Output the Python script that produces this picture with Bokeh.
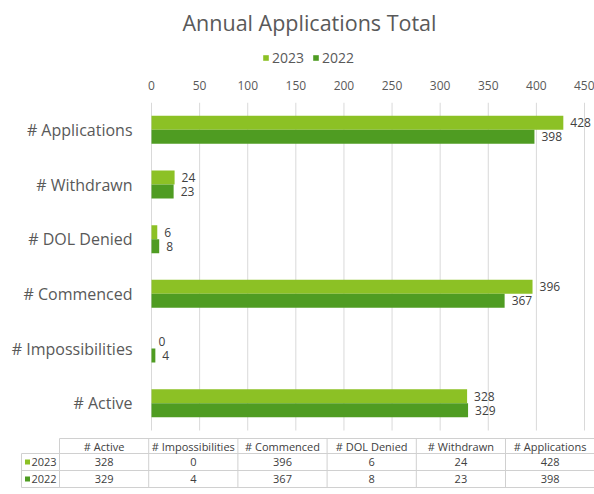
from bokeh.plotting import figure
from bokeh.models import (Range1d, FixedTicker, Legend, LegendItem,
                          ColumnDataSource, Title)
from bokeh.layouts import column
from bokeh.embed import file_html
from bokeh.resources import INLINE
from bokeh.core.properties import value

# ---------------- data ----------------
title_text = "Annual Applications Total"
categories = ["# Active", "# Impossibilities", "# Commenced", "# DOL Denied",
              "# Withdrawn", "# Applications"]
series_names = ["2023", "2022"]
values_2023 = [328, 0, 396, 6, 24, 428]
values_2022 = [329, 4, 367, 8, 23, 398]
x_ticks = [0, 50, 100, 150, 200, 250, 300, 350, 400, 450]

# ---------------- style / layout ----------------
FONT = "Open Sans"
COLORS = ["#8cc125", "#4f9c22"]
TEXT = "#595959"
DARK = "#404040"
GRID = "#d9d9d9"
W = 594
HEAD_H = 77                 # title + legend strip
H = 494 - HEAD_H            # chart + data table
FRAME_LEFT = 8
FRAME_TOP = 25              # room for the value axis
FRAME_BOTTOM = 4
PX_PER_UNIT = 0.9622
ZERO_X = 151 - FRAME_LEFT
frame_w = W - FRAME_LEFT
frame_h = H - FRAME_TOP - FRAME_BOTTOM
band = 54.67
bar_h = 14
Y0 = HEAD_H + FRAME_TOP     # page y of the chart frame top

# ---------------- header: title and legend ----------------
head = figure(width=W, height=HEAD_H, x_range=Range1d(0, 1), y_range=Range1d(0, 1),
              x_axis_location=None, y_axis_location=None,
              output_backend="svg", toolbar_location=None,
              min_border_left=FRAME_LEFT, min_border_right=0,
              min_border_top=37, min_border_bottom=0)
head.title = Title(text=title_text, align="left", offset=174, text_font=FONT,
                   text_font_size="21.5px", text_font_style="normal",
                   text_color=TEXT)
head.outline_line_color = None
head.grid.grid_line_color = None
# legend swatches (kept outside the visible range of this strip)
sw23 = head.rect(x=[-5], y=[-5], width=1, height=1, fill_color=COLORS[0], line_color=None)
sw22 = head.rect(x=[-5], y=[-5], width=1, height=1, fill_color=COLORS[1], line_color=None)
legend = Legend(items=[LegendItem(label=series_names[0], renderers=[sw23]),
                       LegendItem(label=series_names[1], renderers=[sw22])],
                orientation="horizontal", location=(254, 10),
                glyph_width=7, glyph_height=7, label_standoff=3, spacing=8,
                padding=2, margin=0, label_text_font=FONT,
                label_text_font_size="14px", label_text_color=TEXT,
                border_line_color=None, background_fill_alpha=0)
head.add_layout(legend, "center")

# ---------------- chart ----------------
p = figure(width=W, height=H,
           x_range=Range1d(-ZERO_X / PX_PER_UNIT, (frame_w - ZERO_X) / PX_PER_UNIT),
           y_range=Range1d(frame_h, 0),
           x_axis_location="above", y_axis_location=None,
           output_backend="svg", toolbar_location=None,
           min_border_left=FRAME_LEFT, min_border_right=0,
           min_border_top=FRAME_TOP, min_border_bottom=FRAME_BOTTOM)
p.extra_x_ranges = {"px": Range1d(FRAME_LEFT, W)}
p.outline_line_color = None
p.xgrid.grid_line_color = None
p.ygrid.grid_line_color = None

ax = p.xaxis[0]
ax.ticker = FixedTicker(ticks=x_ticks)
ax.axis_line_color = None
ax.major_tick_line_color = None
ax.minor_tick_line_color = None
ax.major_label_text_font = FONT
ax.major_label_text_font_size = "12px"
ax.major_label_text_color = TEXT
ax.major_label_standoff = 7

n = len(categories)
centers = [(n - 1 - k + 0.5) * band for k in range(n)]
plot_bottom = n * band

p.segment(x0=x_ticks, x1=x_ticks, y0=[0] * len(x_ticks), y1=[plot_bottom] * len(x_ticks),
          line_color=GRID, line_width=1)

src = ColumnDataSource(dict(
    cat=categories, yc=centers,
    y23=[c - bar_h / 2 for c in centers], y22=[c + bar_h / 2 for c in centers],
    v23=values_2023, v22=values_2022,
    l23=[str(v) for v in values_2023], l22=[str(v) for v in values_2022],
    zero=[0] * n))

p.hbar(y="y23", left=0, right="v23", height=bar_h,
       fill_color=COLORS[0], line_color=None, source=src)
p.hbar(y="y22", left=0, right="v22", height=bar_h,
       fill_color=COLORS[1], line_color=None, source=src)

for xcol, ycol, lcol in (("v23", "y23", "l23"), ("v22", "y22", "l22")):
    p.text(x=xcol, y=ycol, text=lcol, source=src,
           x_offset=7, text_baseline="middle", text_align="left",
           text_font=value(FONT), text_font_size="12px", text_color=DARK)

p.text(x="zero", y="yc", text="cat", source=src, x_offset=-19,
       text_align="right", text_baseline="middle", text_font=value(FONT),
       text_font_size="16px", text_color=TEXT)

# ---------------- data table ----------------
key_left = 21
col_left = 59
col_w = 89.2
row_lines = [438 - Y0, 453 - Y0, 470 - Y0, 487 - Y0]
table_right = col_left + n * col_w

xs0, ys0, xs1, ys1 = [], [], [], []
xs0.append(col_left); xs1.append(table_right); ys0.append(row_lines[0]); ys1.append(row_lines[0])
for yl in row_lines[1:]:
    xs0.append(key_left); xs1.append(table_right); ys0.append(yl); ys1.append(yl)
xs0.append(key_left); xs1.append(key_left); ys0.append(row_lines[1]); ys1.append(row_lines[-1])
for i in range(n + 1):
    xv = col_left + i * col_w
    xs0.append(xv); xs1.append(xv); ys0.append(row_lines[0]); ys1.append(row_lines[-1])
p.segment(x0=xs0, y0=ys0, x1=xs1, y1=ys1, line_color="#d0d0d0", line_width=1,
          x_range_name="px")

col_c = [col_left + (i + 0.5) * col_w for i in range(n)]
row_mid = [(row_lines[i] + row_lines[i + 1]) / 2 for i in range(3)]
for yy, labels in ((row_mid[0], categories),
                   (row_mid[1], [str(v) for v in values_2023]),
                   (row_mid[2], [str(v) for v in values_2022])):
    p.text(x=col_c, y=[yy] * n, text=labels, text_align="center",
           text_baseline="middle", text_font=value(FONT), text_font_size="11px",
           text_color=DARK, x_range_name="px")
p.rect(x=[key_left + 6] * 2, y=row_mid[1:], width=5, height=5,
       width_units="screen", height_units="screen", fill_color=COLORS,
       line_color=None, x_range_name="px")
p.text(x=[key_left + 10] * 2, y=row_mid[1:], text=series_names, text_align="left",
       text_baseline="middle", text_font=value(FONT), text_font_size="11px",
       text_color=DARK, x_range_name="px")

layout = column(head, p, spacing=0)
open("out.html", "w").write(file_html(layout, INLINE))
